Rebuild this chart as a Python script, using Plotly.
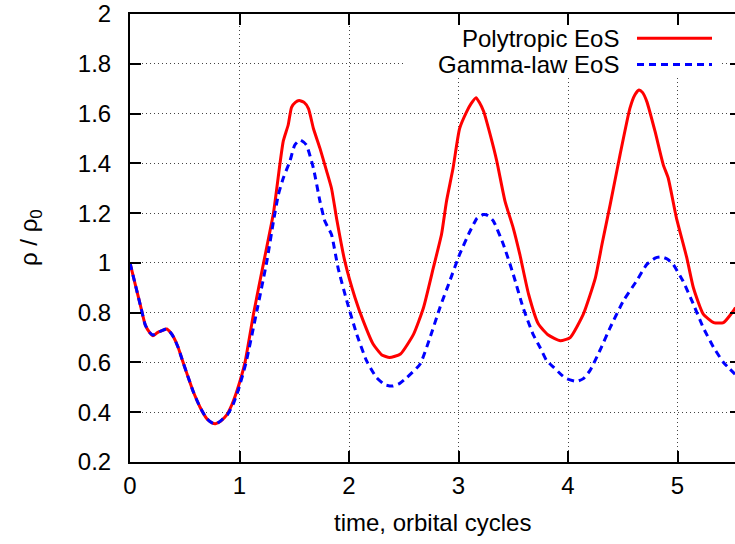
import plotly.graph_objects as go

# Density evolution, polytropic equation of state
t_poly = [0.00, 0.05, 0.10, 0.14, 0.18, 0.21, 0.25, 0.29, 0.335, 0.37, 0.40, 0.44, 0.47,
          0.52, 0.58, 0.64, 0.70, 0.75, 0.78, 0.83, 0.88, 0.93, 0.98, 1.05, 1.13, 1.22,
          1.31, 1.37, 1.40, 1.445, 1.475, 1.51, 1.545, 1.59, 1.63, 1.675, 1.735, 1.795,
          1.84, 1.89, 1.96, 2.055, 2.13, 2.22, 2.30, 2.37, 2.47, 2.59, 2.68, 2.77, 2.845,
          2.89, 2.95, 3.01, 3.075, 3.115, 3.16, 3.19, 3.23, 3.29, 3.35, 3.425, 3.50, 3.56,
          3.64, 3.73, 3.82, 3.93, 4.02, 4.14, 4.25, 4.31, 4.385, 4.475, 4.565, 4.61,
          4.648, 4.68, 4.72, 4.795, 4.87, 4.915, 4.99, 5.085, 5.145, 5.235, 5.33, 5.42,
          5.51, 5.53]
rho_poly = [1.00, 0.91, 0.82, 0.75, 0.72, 0.707, 0.72, 0.727, 0.734, 0.72, 0.70, 0.66, 0.62,
            0.555, 0.48, 0.42, 0.375, 0.357, 0.354, 0.365, 0.387, 0.43, 0.49, 0.60, 0.80,
            1.00, 1.20, 1.40, 1.49, 1.555, 1.625, 1.645, 1.652, 1.645, 1.62, 1.54, 1.46,
            1.37, 1.30, 1.17, 1.01, 0.86, 0.767, 0.674, 0.63, 0.62, 0.634, 0.714, 0.82,
            0.98, 1.115, 1.247, 1.38, 1.54, 1.608, 1.64, 1.664, 1.645, 1.608, 1.514, 1.408,
            1.247, 1.14, 1.034, 0.874, 0.754, 0.71, 0.687, 0.70, 0.794, 0.94, 1.074, 1.234,
            1.434, 1.621, 1.675, 1.695, 1.685, 1.648, 1.528, 1.394, 1.341, 1.181, 1.02,
            0.90, 0.794, 0.76, 0.76, 0.807, 0.82]

# Density evolution, gamma-law equation of state
t_gamma = [0.00, 0.05, 0.10, 0.14, 0.18, 0.21, 0.25, 0.29, 0.335, 0.37, 0.40, 0.44, 0.47,
           0.52, 0.58, 0.64, 0.70, 0.75, 0.79, 0.84, 0.89, 0.94, 0.99, 1.06, 1.16, 1.25,
           1.31, 1.355, 1.40, 1.46, 1.505, 1.553, 1.61, 1.675, 1.735, 1.78, 1.84, 1.90,
           1.98, 2.07, 2.16, 2.25, 2.33, 2.40, 2.46, 2.53, 2.65, 2.74, 2.83, 2.92, 3.01,
           3.105, 3.17, 3.227, 3.27, 3.32, 3.41, 3.50, 3.59, 3.68, 3.745, 3.805, 3.87,
           3.94, 3.99, 4.08, 4.14, 4.20, 4.29, 4.385, 4.505, 4.625, 4.72, 4.80, 4.855,
           4.91, 4.96, 5.05, 5.145, 5.235, 5.33, 5.42, 5.525]
rho_gamma = [1.00, 0.91, 0.82, 0.75, 0.72, 0.71, 0.72, 0.728, 0.735, 0.72, 0.70, 0.66, 0.62,
             0.555, 0.48, 0.42, 0.375, 0.357, 0.354, 0.37, 0.39, 0.43, 0.49, 0.60, 0.81,
             1.007, 1.167, 1.274, 1.341, 1.408, 1.474, 1.494, 1.474, 1.38, 1.247, 1.167,
             1.114, 0.98, 0.847, 0.714, 0.607, 0.54, 0.51, 0.505, 0.515, 0.54, 0.594, 0.70,
             0.82, 0.927, 1.034, 1.127, 1.18, 1.194, 1.19, 1.167, 1.074, 0.954, 0.82, 0.714,
             0.66, 0.607, 0.58, 0.55, 0.534, 0.524, 0.535, 0.567, 0.647, 0.74, 0.847, 0.927,
             0.994, 1.02, 1.024, 1.015, 0.994, 0.927, 0.834, 0.74, 0.66, 0.60, 0.553]

series_names = ["Polytropic EoS", "Gamma-law EoS"]
x_ticks = [0, 1, 2, 3, 4, 5]
y_ticks = [0.2, 0.4, 0.6, 0.8, 1.0, 1.2, 1.4, 1.6, 1.8, 2.0]
y_ticktext = ["0.2", "0.4", "0.6", "0.8", "1", "1.2", "1.4", "1.6", "1.8", "2"]

FONT = "Liberation Sans, Arial, sans-serif"
FS = 24
RED = "#ff0000"
BLUE = "#0000ff"
BLUE_DASH = "7px,5px"

fig = go.Figure()
fig.add_trace(go.Scatter(x=t_poly, y=rho_poly, mode="lines", name=series_names[0],
                         line=dict(color=RED, width=3, shape="spline", smoothing=0.5),
                         showlegend=False))
fig.add_trace(go.Scatter(x=t_gamma, y=rho_gamma, mode="lines", name=series_names[1],
                         line=dict(color=BLUE, width=3, dash=BLUE_DASH,
                                   shape="spline", smoothing=0.5),
                         showlegend=False))
# invisible trace carrying the right-hand mirror ticks
fig.add_trace(go.Scatter(x=[None], y=[None], yaxis="y2", showlegend=False, hoverinfo="skip"))

grid = dict(showgrid=True, gridcolor="#444444", gridwidth=1, griddash="1px,3px", zeroline=False)

fig.update_layout(
    width=735, height=544,
    margin=dict(l=130, r=0, t=12, b=82),
    paper_bgcolor="white", plot_bgcolor="white",
    font=dict(family=FONT, size=FS, color="black"),
    xaxis=dict(range=[0, 5.525], tickvals=x_ticks, ticktext=[str(v) for v in x_ticks],
               ticks="inside", ticklen=11, tickwidth=1.5, tickcolor="black",
               showline=True, linewidth=2, linecolor="black", mirror="ticks",
               ticklabelstandoff=1, ticklabeloverflow="allow", **grid),
    yaxis=dict(range=[0.2, 2.0], tickvals=y_ticks, ticktext=y_ticktext,
               ticks="inside", ticklen=11, tickwidth=1.5, tickcolor="black",
               showline=True, linewidth=2, linecolor="black", mirror=False,
               ticklabelstandoff=12, ticklabeloverflow="allow", **grid),
    yaxis2=dict(range=[0.2, 2.0], tickvals=y_ticks, overlaying="y", side="right",
                ticks="inside", ticklen=5, tickwidth=1.5, tickcolor="black",
                showticklabels=False, showgrid=False, showline=False, zeroline=False),
    showlegend=False,
)

# key: white backing box, right-aligned labels, line samples
def px_x(p):
    return (p - 130) / 605.0

def px_y(p):
    return (462 - p) / 450.0

fig.add_shape(type="rect", xref="paper", yref="paper",
              x0=px_x(405), x1=px_x(722), y0=px_y(76), y1=px_y(24),
              fillcolor="white", line=dict(width=0), layer="above")
key_rows = [36.3, 62.7]
key_styles = [dict(color=RED, width=3), dict(color=BLUE, width=3, dash=BLUE_DASH)]
for name, row, style in zip(series_names, key_rows, key_styles):
    fig.add_annotation(xref="paper", yref="paper", x=px_x(621), y=px_y(row),
                       text=name, showarrow=False, xanchor="right", yanchor="middle",
                       font=dict(family=FONT, size=FS, color="black"))
    fig.add_shape(type="line", xref="paper", yref="paper",
                  x0=px_x(637), x1=px_x(712), y0=px_y(row), y1=px_y(row),
                  line=style, layer="above")

# axis titles
fig.add_annotation(xref="paper", yref="paper", x=px_x(432), y=px_y(523),
                   text="time, orbital cycles", showarrow=False,
                   xanchor="center", yanchor="middle",
                   font=dict(family=FONT, size=FS, color="black"))
fig.add_annotation(xref="paper", yref="paper", x=px_x(30), y=px_y(237),
                   text="ρ / ρ<sub>0</sub>", showarrow=False, textangle=-90,
                   xanchor="center", yanchor="middle",
                   font=dict(family=FONT, size=FS, color="black"))

fig.write_html("out.html")
